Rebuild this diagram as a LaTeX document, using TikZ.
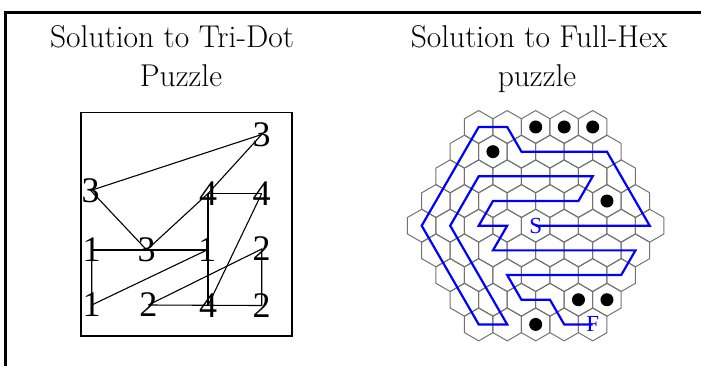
\documentclass[tikz,border=0pt]{standalone}
\usepackage{fontspec}
\usepackage{xcolor}
\usepackage{tikz}
\usetikzlibrary{calc}
\newfontfamily\numfont{Liberation Serif}
\tikzset{
  frameline/.style={line width=2.7pt, black},
  ttl/.style={font=\fontsize{31.5}{36}\selectfont, anchor=base, inner sep=0pt},
  digit/.style={font=\numfont\fontsize{36}{40}\selectfont, inner sep=0pt},
  board/.style={line width=1.6pt, black},
  link/.style={line width=1.1pt, black},
  hexcell/.style={draw=black!55, line width=1pt},
  peg/.style={fill=black},
  route/.style={draw=blue, line width=2.2pt},
  routelbl/.style={font=\numfont\fontsize{23}{24}\selectfont, text=blue, inner sep=0pt}
}

\begin{document}
\begin{tikzpicture}[x=1pt, y=-1pt]
  \useasboundingbox (0,0) rectangle (701,365);
  \draw[frameline] (5.3,370) -- (5.3,12.3) -- (710,12.3);

  % titles
  \node[ttl] (tdtitle) at (172,47.3) {Solution to Tri-Dot};
  \node[ttl] (tdtitleb) at (181,86.7) {Puzzle};
  \node[ttl] (fhtitle) at (539,47.3) {Solution to Full-Hex};
  \node[ttl] (fhtitleb) at (537,86.7) {puzzle};

  % tri-dot
  \draw[board] (81,112.5) rectangle (292,336);
  \node[digit] (t03) at (261.7,134.5) {3};
  \node[digit] (t10) at (90.7,190.5) {3};
  \node[digit] (t12) at (208,193.5) {4};
  \node[digit] (t13) at (261.7,193.5) {4};
  \node[digit] (t20) at (91.7,250) {1};
  \node[digit] (t21) at (146.7,250) {3};
  \node[digit] (t22) at (207,250) {1};
  \node[digit] (t23) at (261.7,249) {2};
  \node[digit] (t30) at (91.7,305) {1};
  \node[digit] (t31) at (148.3,305) {2};
  \node[digit] (t32) at (208,305.5) {4};
  \node[digit] (t33) at (261.7,305.5) {2};
  \draw[link] (t03.center) -- (t10.center) -- (t21.center) -- (t12.center) -- (t03.center);
  \draw[link] (t12.center) -- (t13.center);
  \draw[link] (t20.center) -- (t22.center);
  \draw[link] (t20.center) -- (t30.center) -- (t22.center);
  \draw[link] (t12.center) -- (t32.center);
  \draw[link] (t13.center) -- (t32.center);
  \draw[link] (t31.center) -- (t23.center) -- (t33.center) -- (t31.center);

  % full-hex
  \begin{scope}[shift={(535.7,225.7)}, x=28.5pt, y=24.68pt]
    \foreach \r in {-4,...,4}{
      \pgfmathtruncatemacro{\last}{8-abs(\r)}
      \foreach \k in {0,...,\last}{
        \path[hexcell] ({\k-\last/2},\r) +(30:16.45pt) -- +(90:16.45pt) -- +(150:16.45pt)
          -- +(210:16.45pt) -- +(270:16.45pt) -- +(330:16.45pt) -- cycle;
      }
    }
    \foreach \px/\py in {0/4, 1/4, 2/4, -1.5/3, 2.5/1, 1.5/-3, 2.5/-3, 0/-4}
      \fill[peg] (\px,\py) circle (6.5pt);
    \node[routelbl] (start) at (0,0) {S};
    \node[routelbl] (finish) at (2,-4) {F};
    \draw[route] (start.center) -- (4,0) -- (2.5,3) -- (-0.5,3) -- (-1,4) -- (-2,4)
      -- (-4,0) -- (-2,-4) -- (-1,-4) -- (-3,0) -- (-2,2) -- (2,2) -- (1.5,1)
      -- (-1.5,1) -- (-2,0) -- (-1,0) -- (-1.5,-1) -- (3.5,-1) -- (3,-2) -- (-1,-2)
      -- (-0.5,-3) -- (0.5,-3) -- (1,-4) -- (finish.center);
  \end{scope}
\end{tikzpicture}
\end{document}
